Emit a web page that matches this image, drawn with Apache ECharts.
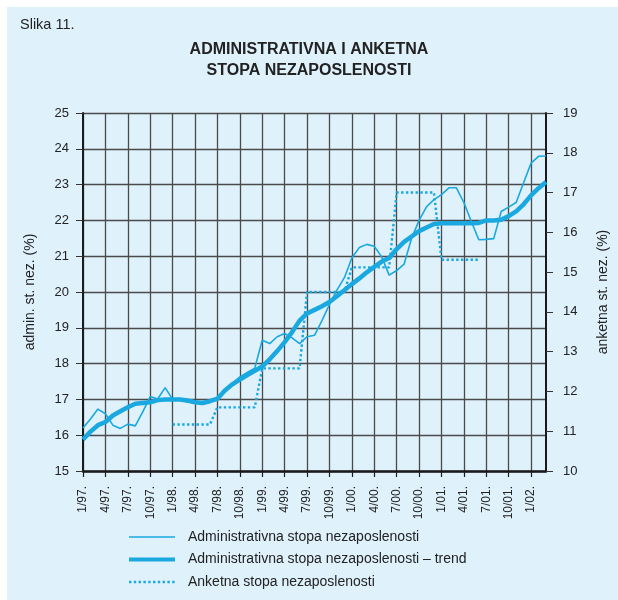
<!DOCTYPE html>
<html>
<head>
<meta charset="utf-8">
<script src="https://cdn.jsdelivr.net/npm/echarts@6/dist/echarts.min.js"></script>
<style>
  html, body {
    margin: 0;
    padding: 0;
    background: #fff;
  }
  .frame {
    position: absolute;
    left: 7px;
    top: 7px;
    width: 611px;
    height: 593px;
    background: #dff1fb;
  }
  #chart {
    position: absolute;
    left: 0;
    top: 0;
    width: 618px;
    height: 600px;
  }
</style>
</head>
<body>
<div class="frame"></div>
<div id="chart"></div>
<script>
// mjeseci 1/97. - 3/02.
const months = [
  '1/97.', '2/97.', '3/97.', '4/97.', '5/97.', '6/97.', '7/97.', '8/97.', '9/97.', '10/97.', '11/97.', '12/97.',
  '1/98.', '2/98.', '3/98.', '4/98.', '5/98.', '6/98.', '7/98.', '8/98.', '9/98.', '10/98.', '11/98.', '12/98.',
  '1/99.', '2/99.', '3/99.', '4/99.', '5/99.', '6/99.', '7/99.', '8/99.', '9/99.', '10/99.', '11/99.', '12/99.',
  '1/00.', '2/00.', '3/00.', '4/00.', '5/00.', '6/00.', '7/00.', '8/00.', '9/00.', '10/00.', '11/00.', '12/00.',
  '1/01.', '2/01.', '3/01.', '4/01.', '5/01.', '6/01.', '7/01.', '8/01.', '9/01.', '10/01.', '11/01.', '12/01.',
  '1/02.', '2/02.', '3/02.'
]

// administrativna stopa (lijeva os)
const adminRate = [
  16.2, 16.45, 16.73, 16.6, 16.28, 16.19, 16.31, 16.26, 16.65, 17.08, 17.01, 17.33,
  17.0, 16.98, 16.93, 16.9, 16.9, 16.97, 17.02, 17.25, 17.45, 17.63, 17.75, 17.87,
  18.65, 18.56, 18.75, 18.84, 18.72, 18.56, 18.75, 18.79, 19.2, 19.65, 20.05, 20.4,
  20.95, 21.24, 21.33, 21.28, 20.98, 20.47, 20.6, 20.78, 21.5, 22.0, 22.38, 22.58,
  22.72, 22.91, 22.91, 22.5, 21.97, 21.46, 21.47, 21.49, 22.25, 22.37, 22.5, 23.05,
  23.6, 23.79, 23.8
]

// trend administrativne stope (lijeva os)
const adminTrend = [
  15.88, 16.1, 16.28, 16.37, 16.55, 16.67, 16.78, 16.88, 16.9, 16.92, 16.98, 17.0,
  17.0, 17.0, 16.97, 16.92, 16.9, 16.95, 17.02, 17.25, 17.42, 17.55, 17.68, 17.8,
  17.92, 18.12, 18.35, 18.6, 18.88, 19.2, 19.4, 19.5, 19.6, 19.72, 19.88, 20.05,
  20.22, 20.38, 20.55, 20.7, 20.85, 20.95, 21.2, 21.4, 21.55, 21.7, 21.8, 21.9,
  21.92, 21.92, 21.92, 21.92, 21.92, 21.93, 22.0, 22.0, 22.02, 22.12, 22.25, 22.45,
  22.7, 22.9, 23.07
]

// anketna stopa (desna os)
const surveyRate = [
  null, null, null, null, null, null, null, null, null, null, null, null,
  11.17, 11.17, 11.17, 11.17, 11.17, 11.17, 11.6, 11.6, 11.6, 11.6, 11.6, 11.6,
  12.58, 12.58, 12.58, 12.58, 12.58, 12.58, 14.5, 14.5, 14.5, 14.5, 14.5, 14.5,
  15.12, 15.12, 15.12, 15.12, 15.12, 15.12, 17.0, 17.0, 17.0, 17.0, 17.0, 17.0,
  15.31, 15.31, 15.31, 15.31, 15.31, 15.31, null, null, null, null, null, null,
  null, null, null
]

const seriesNames = [
  'Administrativna stopa nezaposlenosti',
  'Administrativna stopa nezaposlenosti – trend',
  'Anketna stopa nezaposlenosti'
]

const lineColor = '#19a8e0'
const gridColor = '#4a4a4a'
const font = 'Liberation Sans, Arial, sans-serif'

let chart = echarts.init(document.getElementById('chart'), null, { renderer: 'canvas' })
let option = {
  backgroundColor: 'transparent',
  animation: false,
  textStyle: { fontFamily: font },
  title: [
    {
      text: 'Slika 11.',
      left: 15,
      top: 12,
      textStyle: { fontSize: 14.5, fontWeight: 'normal', color: '#222', fontFamily: font }
    },
    {
      text: 'ADMINISTRATIVNA I ANKETNA\nSTOPA NEZAPOSLENOSTI',
      left: 'center',
      top: 34,
      textStyle: { fontSize: 16, fontWeight: 'bold', color: '#222', lineHeight: 21, fontFamily: font }
    }
  ],
  legend: {
    orient: 'vertical',
    left: 127,
    top: 530,
    padding: 0,
    itemWidth: 46,
    itemHeight: 14,
    itemGap: 8.5,
    data: [
      { name: seriesNames[0], lineStyle: { width: 1.6 } },
      { name: seriesNames[1], lineStyle: { width: 4 } },
      { name: seriesNames[2], lineStyle: { width: 2.4 } }
    ],
    // samo linija, bez kruzica
    itemStyle: { opacity: 0 },
    textStyle: { fontSize: 14, color: '#222', padding: [0, 0, 0, 8], fontFamily: font }
  },
  grid: {
    left: 83,
    right: 62,
    top: 113,
    bottom: 129
  },
  xAxis: {
    type: 'category',
    data: months,
    boundaryGap: false,
    axisLine: { lineStyle: { color: '#1a1a1a', width: 2.5 } },
    axisTick: { interval: 2, length: 6, lineStyle: { color: '#1a1a1a', width: 1.2 } },
    axisLabel: { interval: 2, rotate: 90, margin: 15, fontSize: 12, color: '#222', fontFamily: font },
    splitLine: { show: true, interval: 2, lineStyle: { color: gridColor, width: 1.3 } }
  },
  yAxis: [
    {
      type: 'value',
      min: 15,
      max: 25,
      interval: 1,
      name: 'admin. st. nez. (%)',
      nameLocation: 'middle',
      nameRotate: 90,
      nameGap: 46,
      nameTextStyle: { fontSize: 14, color: '#222', fontFamily: font },
      axisLine: { show: true, lineStyle: { color: '#1a1a1a', width: 2 } },
      axisTick: { show: true, length: 7, lineStyle: { color: '#333', width: 1 } },
      axisLabel: { margin: 14, fontSize: 13, color: '#222', fontFamily: font },
      splitLine: { show: true, lineStyle: { color: gridColor, width: 1.3 } }
    },
    {
      type: 'value',
      min: 10,
      max: 19,
      interval: 1,
      position: 'right',
      name: 'anketna st. nez. (%)',
      nameLocation: 'middle',
      nameRotate: 90,
      nameGap: 50,
      nameTextStyle: { fontSize: 14, color: '#222', fontFamily: font },
      axisLine: { show: true, lineStyle: { color: '#1a1a1a', width: 2 } },
      axisTick: { show: true, length: 7, lineStyle: { color: '#333', width: 1 } },
      axisLabel: { margin: 17, fontSize: 13, color: '#222', fontFamily: font },
      splitLine: { show: false }
    }
  ],
  series: [
    {
      name: seriesNames[0],
      type: 'line',
      yAxisIndex: 0,
      data: adminRate,
      symbol: 'none',
      color: lineColor,
      lineStyle: { color: lineColor, width: 1.6 },
      z: 3
    },
    {
      name: seriesNames[1],
      type: 'line',
      yAxisIndex: 0,
      data: adminTrend,
      symbol: 'none',
      color: lineColor,
      lineStyle: { color: lineColor, width: 4.5 },
      z: 4
    },
    {
      name: seriesNames[2],
      type: 'line',
      yAxisIndex: 1,
      data: surveyRate,
      symbol: 'none',
      color: lineColor,
      lineStyle: { color: lineColor, width: 2.4, type: [2.4, 2.4] },
      z: 2
    }
  ]
}
chart.setOption(option)
</script>
</body>
</html>
